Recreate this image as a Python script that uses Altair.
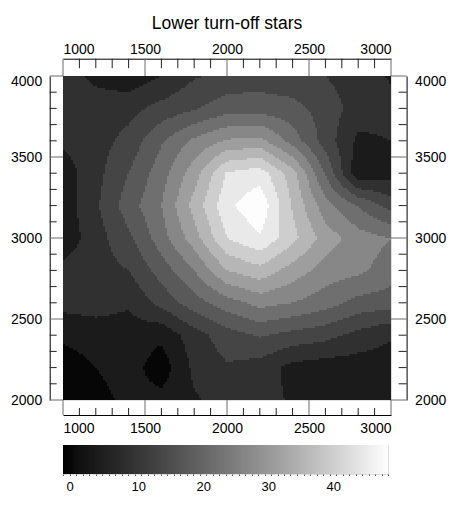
import altair as alt
import pandas as pd

TITLE = "Lower turn-off stars"

# coarse grid of star density
X_GRID = [1000, 1200, 1400, 1600, 1800, 2000, 2200, 2400, 2600, 2800, 3000]
Y_GRID = [4000, 3800, 3600, 3400, 3200, 3000, 2800, 2600, 2400, 2200, 2000]
Z_ROWS = [
    [11.0, 8.0, 6.0, 9.0, 13.0, 15.0, 15.5, 15.0, 13.5, 11.0, 8.5],
    [11.0, 11.0, 12.0, 15.0, 17.5, 20.5, 20.5, 19.5, 16.0, 11.5, 10.5],
    [10.0, 11.5, 15.0, 22.0, 28.0, 32.0, 33.0, 25.0, 16.0, 8.0, 9.0],
    [6.5, 12.0, 18.0, 25.0, 34.0, 45.5, 47.5, 38.0, 22.0, 5.5, 7.0],
    [6.5, 12.7, 20.3, 27.0, 37.7, 48.3, 53.0, 40.0, 28.8, 22.3, 16.0],
    [6.0, 11.5, 17.0, 25.0, 34.0, 45.0, 49.0, 42.0, 34.0, 29.0, 27.0],
    [10.5, 11.5, 13.5, 20.0, 27.0, 36.0, 39.0, 34.0, 29.5, 28.0, 25.0],
    [10.5, 11.0, 9.5, 15.0, 20.5, 25.0, 28.5, 27.0, 24.5, 21.0, 20.0],
    [5.5, 6.5, 7.0, 5.5, 11.5, 16.0, 18.5, 16.5, 15.0, 12.0, 9.5],
    [2.0, 4.5, 6.5, 2.0, 10.0, 13.0, 11.5, 7.5, 6.5, 6.5, 6.5],
    [2.0, 3.0, 5.5, 6.0, 8.5, 10.5, 10.5, 8.5, 6.5, 6.5, 6.5],
]
LEVELS = [4.5, 9.0, 13.5, 18.0, 22.5, 27.0, 31.5, 36.0, 40.5, 45.0, 49.5]
BAND_GRAYS = ["#060606", "#1b1b1b", "#303030", "#454545", "#595959", "#6f6f6f",
              "#878787", "#9e9e9e", "#b6b6b6", "#cecece", "#e9e9e9", "#fdfdfd"]

X_MAJOR = [1000, 1500, 2000, 2500, 3000]
X_MINOR = [v for v in range(1100, 3000, 100) if v % 500]
Y_MAJOR = [2000, 2500, 3000, 3500, 4000]
Y_MINOR = [v for v in range(2100, 4000, 100) if v % 500]
CBAR_LABELS = [0, 10, 20, 30, 40]
CBAR_MAX = 50

W, H = 328, 324
FONT = "Liberation Sans"
OFF_L, OFF_R, OFF_T, OFF_B = 13.3, 15.6, 17.3, 15.0

# ---- tables built from the arrays ----
step = X_GRID[1] - X_GRID[0]
x_lo, x_hi = min(X_GRID), max(X_GRID)
y_lo, y_hi = min(Y_GRID), max(Y_GRID)
nx, ny = len(X_GRID), len(Y_GRID)
rows = []
for r, yv in enumerate(Y_GRID):
    for c, xv in enumerate(X_GRID):
        j = int(round((yv - y_lo) / step))
        rows.append({"key": f"{c}_{j}", "gx": xv, "gy": yv, "z": Z_ROWS[r][c]})
coarse = pd.DataFrame(rows)

MX, MY = W // 2, H // 2          # raster cells of about 2 px
dx = (x_hi - x_lo) / MX
dy = (y_hi - y_lo) / MY

xs = alt.Scale(domain=[x_lo, x_hi], nice=False, zero=False)
ys = alt.Scale(domain=[y_lo, y_hi], nice=False, zero=False)
band_scale = alt.Scale(type="threshold", domain=LEVELS, range=BAND_GRAYS)

lab = dict(labelFont=FONT, labelFontSize=14, labelColor="black", grid=False, title=None,
           format="d", ticks=False, domain=True, domainColor="black", domainWidth=1,
           labelOverlap=False)
top_label_shift = {"condition": {"test": f"datum.value == {y_hi}", "value": 5}, "value": 0}

look = alt.LookupData(coarse, "key", ["z"])
heat = (
    alt.Chart(alt.sequence(0, MX * MY, as_="i"))
    .transform_calculate(
        ix=f"datum.i % {MX}",
        iy=f"floor(datum.i / {MX})",
        x0=f"{x_lo} + datum.ix * {dx}",
        x1=f"{x_lo} + (datum.ix + 1.6) * {dx}",
        y0=f"{y_lo} + datum.iy * {dy}",
        y1=f"{y_lo} + (datum.iy + 1.6) * {dy}",
        fx=f"(datum.ix + 0.5) * {dx / step}",
        fy=f"(datum.iy + 0.5) * {dy / step}",
        gi=f"min(floor(datum.fx), {nx - 2})",
        gj=f"min(floor(datum.fy), {ny - 2})",
        tx="datum.fx - datum.gi",
        ty="datum.fy - datum.gj",
        k00="datum.gi + '_' + datum.gj",
        k10="(datum.gi + 1) + '_' + datum.gj",
        k01="datum.gi + '_' + (datum.gj + 1)",
        k11="(datum.gi + 1) + '_' + (datum.gj + 1)",
    )
    .transform_lookup(lookup="k00", from_=look, as_=["z00"])
    .transform_lookup(lookup="k10", from_=look, as_=["z10"])
    .transform_lookup(lookup="k01", from_=look, as_=["z01"])
    .transform_lookup(lookup="k11", from_=look, as_=["z11"])
    .transform_calculate(
        z="datum.z00*(1-datum.tx)*(1-datum.ty) + datum.z10*datum.tx*(1-datum.ty)"
          " + datum.z01*(1-datum.tx)*datum.ty + datum.z11*datum.tx*datum.ty"
    )
    .mark_rect(clip=True, strokeWidth=0)
    .encode(
        x=alt.X("x0:Q", scale=xs, axis=alt.Axis(orient="bottom", offset=OFF_B, values=X_MAJOR,
                                                 labelPadding=6, **lab)),
        x2="x1:Q",
        y=alt.Y("y0:Q", scale=ys, axis=alt.Axis(orient="left", offset=OFF_L, values=Y_MAJOR,
                                                 labelPadding=8, labelOffset=top_label_shift,
                                                 **lab)),
        y2="y1:Q",
        color=alt.Color("z:Q", scale=band_scale, legend=None),
    )
)

frame = (
    alt.Chart(coarse)
    .mark_point(opacity=0)
    .encode(
        x=alt.X("gx:Q", scale=xs, axis=alt.Axis(orient="top", offset=OFF_T, values=X_MAJOR,
                                                 labelPadding=2, **lab)),
        y=alt.Y("gy:Q", scale=ys, axis=alt.Axis(orient="right", offset=OFF_R, values=Y_MAJOR,
                                                 labelPadding=8, labelOffset=top_label_shift,
                                                 **lab)),
    )
)

def xticks(vals, y_from, y_to, color):
    return (
        alt.Chart(pd.DataFrame({"v": vals}))
        .mark_rule(color=color, strokeWidth=1)
        .encode(x=alt.X("v:Q", scale=xs, axis=None), y=alt.value(y_from), y2=alt.value(y_to))
    )

def yticks(vals, x_from, x_to, color):
    return (
        alt.Chart(pd.DataFrame({"v": vals}))
        .mark_rule(color=color, strokeWidth=1)
        .encode(y=alt.Y("v:Q", scale=ys, axis=None), x=alt.value(x_from), x2=alt.value(x_to))
    )

MAJ, MIN = "#6a6a6a", "#222222"
tick_layers = [
    xticks(X_MAJOR, -OFF_T, 0, MAJ), xticks(X_MINOR, -OFF_T, -OFF_T + 9.5, MIN),
    xticks(X_MAJOR, H + OFF_B, H, MAJ), xticks(X_MINOR, H + OFF_B, H + OFF_B - 7, MIN),
    yticks(Y_MAJOR, -OFF_L, 0, MAJ), yticks(Y_MINOR, -OFF_L, -OFF_L + 7, MIN),
    yticks(Y_MAJOR, W + OFF_R, W, MAJ), yticks(Y_MINOR, W + OFF_R, W + OFF_R - 8, MIN),
]

main = (
    alt.layer(heat, frame, *tick_layers)
    .resolve_axis(x="independent", y="independent")
    .properties(
        width=W, height=H,
        title=alt.TitleParams(TITLE, font=FONT, fontSize=17.5, fontWeight="normal",
                              color="black", anchor="middle", frame="group", offset=10),
    )
)

label_expr = "indexof(" + str(CBAR_LABELS) + ", datum.value) >= 0 ? datum.label : ''"
cbar_scale = alt.Scale(domain=[0, CBAR_MAX], range=["black", "white"])
cstep = 0.25
cbar = (
    alt.Chart(alt.sequence(0, CBAR_MAX, cstep, as_="v"))
    .transform_calculate(v2=f"datum.v + {cstep * 1.6}")
    .mark_rect(clip=True, strokeWidth=0)
    .encode(
        x=alt.X("v:Q", scale=alt.Scale(domain=[0, CBAR_MAX], nice=False, zero=False),
                axis=alt.Axis(orient="bottom", values=list(range(0, CBAR_MAX + 1)),
                              labelExpr=label_expr, labelAlign="left", labelOffset=3,
                              labelPadding=5, labelFont=FONT, labelFontSize=13,
                              labelColor="black", labelOverlap=False, tickSize=1.5,
                              tickColor="#555555", domain=False, grid=False, title=None)),
        x2="v2:Q",
        color=alt.Color("v:Q", scale=cbar_scale, legend=None),
    )
    .properties(width=325, height=29)
)

chart = (
    alt.vconcat(main, cbar, spacing=8)
    .properties(padding={"left": 2, "top": 6, "right": 5, "bottom": 5})
    .configure_view(stroke=None)
    .configure(background="white")
)

chart.save("out.html", embed_options={"renderer": "svg", "actions": False})
